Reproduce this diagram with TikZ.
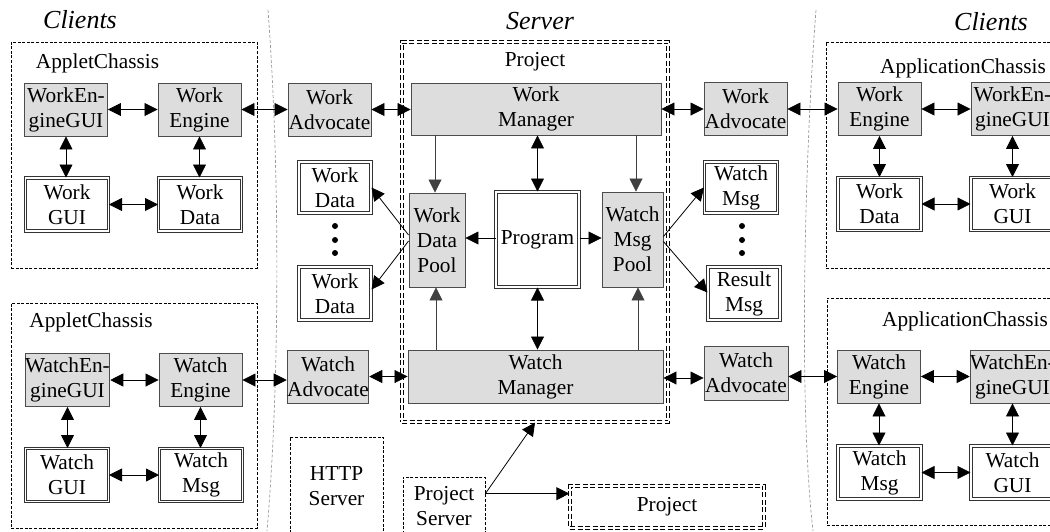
\documentclass[tikz,border=0pt]{standalone}
\usepackage{fontspec}
\setmainfont{Liberation Serif}
\usetikzlibrary{arrows.meta,calc}
\definecolor{boxgray}{RGB}{221,221,221}
\begin{document}
\begin{tikzpicture}[x=1pt,y=-1pt,
  every node/.style={font=\fontsize{21.3}{25}\selectfont, inner sep=0pt, align=center},
  gbox/.style={draw=black!70, fill=boxgray, line width=0.9pt, minimum width=83pt, minimum height=53pt},
  dbox/.style={draw=black!80, double=white, double distance=1.3pt, line width=1pt, minimum width=83pt, minimum height=53pt},
  chassis/.style={draw, dash pattern=on 3pt off 1.6pt, line width=0.7pt},
  pbox/.style={draw, line width=1.3pt, double=white, double distance=1.1pt, dash pattern=on 5pt off 2.5pt},
  arr/.style={{Triangle[length=13pt,width=13pt]}-{Triangle[length=13pt,width=13pt]}, line width=0.8pt},
  sarr/.style={-{Triangle[length=13pt,width=13pt]}, line width=0.8pt},
  parr/.style={-{Triangle[length=13pt,width=13pt]}, line width=0.8pt, draw=black!75, fill=black},
  titletext/.style={font=\fontsize{26}{30}\selectfont\itshape, anchor=base},
  lbl/.style={anchor=base},
  divider/.style={draw=black!40, dash pattern=on 3pt off 2pt, line width=0.7pt}]
\useasboundingbox (0,0) rectangle (1050,531);
\clip (0,0) rectangle (1050,531);

% dividers
\draw[divider] (268,10) .. controls (280,170) and (280,380) .. (267,531);
\draw[divider] (816,10) .. controls (805,150) and (798,400) .. (813,531);

% titles
\node[titletext] (tcl) at (80,28) {Clients};
\node[titletext] (tsv) at (540,29) {Server};
\node[titletext] (tcr) at (991,30) {Clients};

% chassis containers
\node[chassis, minimum width=246pt, minimum height=226pt] (chL1) at (134,155) {};
\node[chassis, minimum width=246pt, minimum height=225pt] (chL2) at (134,415.5) {};
\node[chassis, minimum width=236pt, minimum height=226pt] (chR1) at (944,155) {};
\node[chassis, minimum width=235pt, minimum height=227pt] (chR2) at (944.5,411.5) {};
\node[lbl] (lchL1) at (97.5,68) {AppletChassis};
\node[lbl] (lchL2) at (91,327) {AppletChassis};
\node[lbl] (lchR1) at (963,73) {ApplicationChassis};
\node[lbl] (lchR2) at (965,326) {ApplicationChassis};

% project container
\node[pbox, minimum width=266pt, minimum height=380pt] (projbox) at (535,232) {};
\node[lbl] (lproj) at (535,66) {Project};

% left top chassis
\node[gbox] (wegL) at (66,109.5) {WorkEn-\\gineGUI};
\node[gbox] (weL) at (199.5,109.5) {Work\\Engine};
\node[dbox] (wguiL) at (67,204.5) {Work\\GUI};
\node[dbox] (wdL) at (200,204.5) {Work\\Data};

% left bottom chassis
\node[gbox] (wchegL) at (67.5,380) {WatchEn-\\gineGUI};
\node[gbox] (wchEL) at (200.5,380) {Watch\\Engine};
\node[dbox] (wchguiL) at (67,475) {Watch\\GUI};
\node[dbox] (wchmsgL) at (201,475) {Watch\\Msg};

% advocates
\node[gbox] (waL) at (329.5,109.5) {Work\\Advocate};
\node[gbox, minimum width=80pt] (wchaL) at (328,376.5) {Watch\\Advocate};
\node[gbox] (waR) at (745.5,109) {Work\\Advocate};
\node[gbox, minimum width=84pt, minimum height=54pt] (wchaR) at (746,373) {Watch\\Advocate};

% server left data
\node[dbox, minimum width=72pt, minimum height=51pt] (wdata1) at (335,187.5) {Work\\Data};
\node[dbox, minimum width=72pt, minimum height=53pt] (wdata2) at (335,293.5) {Work\\Data};
\fill (335,226) circle (3pt) (335,240) circle (3pt) (335,253) circle (3pt);

% server right messages
\node[dbox, minimum width=73pt, minimum height=51pt] (wmsg) at (741,187.5) {Watch\\Msg};
\node[dbox, minimum width=72pt, minimum height=53pt] (rmsg) at (744,293.5) {Result\\Msg};
\fill (742,226) circle (3pt) (742,240) circle (3pt) (742,253) circle (3pt);

% project internals
\node[gbox, minimum width=250pt, minimum height=52pt] (wm) at (536,109) {Work\\Manager};
\node[gbox, minimum width=255pt, minimum height=53pt] (wchm) at (535.5,376.5) {Watch\\Manager};
\node[gbox, minimum width=56pt, minimum height=94pt] (wdp) at (437,240) {Work\\Data\\Pool};
\node[dbox, minimum width=83pt, minimum height=95pt] (prog) at (537.5,239.5) {Program};
\node[gbox, minimum width=61pt, minimum height=95pt] (wmp) at (632.5,239.5) {Watch\\Msg\\Pool};

% servers
\node[chassis, minimum width=93pt, minimum height=98pt] (http) at (336.5,486) {HTTP\\Server};
\node[chassis, minimum width=82pt, minimum height=58pt] (pserver) at (444,506) {Project\\Server};
\node[pbox, minimum width=194pt, minimum height=42pt] (projB) at (667,507) {Project};

% right top chassis
\node[gbox] (weR) at (879.5,109) {Work\\Engine};
\node[gbox] (wegR) at (1012.5,109) {WorkEn-\\gineGUI};
\node[dbox] (wdR) at (879.5,204) {Work\\Data};
\node[dbox] (wguiR) at (1012.5,204) {Work\\GUI};

% right bottom chassis
\node[gbox] (wchER) at (879,376.5) {Watch\\Engine};
\node[gbox] (wchegR) at (1012.5,376.5) {WatchEn-\\gineGUI};
\node[dbox] (wchmR) at (879.5,472.5) {Watch\\Msg};
\node[dbox] (wchguiR) at (1012.5,472.5) {Watch\\GUI};

% ---- connectors ----
% left top
\draw[arr] (wegL.east) -- (wegL.east -| weL.west);
\draw[arr] (wegL.south) -- (wegL.south |- wguiL.north);
\draw[arr] (weL.south) -- (weL.south |- wdL.north);
\draw[arr] (wguiL.east) -- (wguiL.east -| wdL.west);
\draw[arr] (weL.east) -- (weL.east -| waL.west);
\draw[arr] (waL.east) -- (waL.east -| wm.west);
% left bottom
\draw[arr] (wchegL.east) -- (wchegL.east -| wchEL.west);
\draw[arr] (wchegL.south) -- (wchegL.south |- wchguiL.north);
\draw[arr] (wchEL.south) -- (wchEL.south |- wchmsgL.north);
\draw[arr] (wchguiL.east) -- (wchguiL.east -| wchmsgL.west);
\draw[arr] (wchEL.east) -- (wchEL.east -| wchaL.west);
\draw[arr] (wchaL.east) -- (wchaL.east -| wchm.west);
% project internals
\draw[parr] ([xshift=-2pt]wdp.north |- wm.south) -- ([xshift=-2pt]wdp.north);
\draw[arr] (prog.north |- wm.south) -- (prog.north);
\draw[parr] ([xshift=3.5pt]wmp.north |- wm.south) -- ([xshift=3.5pt]wmp.north);
\draw[sarr] ([yshift=1.5pt]prog.west) -- ([yshift=1.5pt]prog.west -| wdp.east);
\draw[sarr] ([yshift=1.5pt]prog.east) -- ([yshift=1.5pt]prog.east -| wmp.west);
\draw[parr] ([xshift=-1pt]wdp.south |- wchm.north) -- ([xshift=-1pt]wdp.south);
\draw[arr] (prog.south) -- (prog.south |- wchm.north);
\draw[parr] ([xshift=5.5pt]wmp.south |- wchm.north) -- ([xshift=5.5pt]wmp.south);
\draw[sarr] ([yshift=5pt]wdp.west) -- (wdata1.east);
\draw[sarr] ([yshift=-1pt]wdp.west) -- ([yshift=4pt]wdata2.east);
\draw[sarr] ([yshift=3pt]wmp.east) -- (wmsg.west);
\draw[sarr] ([yshift=-2pt]wmp.east) -- ([yshift=1pt]rmsg.west);
% right top
\draw[arr] (wm.east) -- (wm.east -| waR.west);
\draw[arr] (waR.east) -- (waR.east -| weR.west);
\draw[arr] (weR.east) -- (weR.east -| wegR.west);
\draw[arr] (weR.south) -- (weR.south |- wdR.north);
\draw[arr] (wegR.south) -- (wegR.south |- wguiR.north);
\draw[arr] (wdR.east) -- (wdR.east -| wguiR.west);
% right bottom
\draw[arr] ([yshift=-1.5pt]wchm.east) -- ([yshift=-1.5pt]wchm.east -| wchaR.west);
\draw[arr] (wchER.west -| wchaR.east) -- (wchER.west);
\draw[arr] (wchER.east) -- (wchER.east -| wchegR.west);
\draw[arr] (wchER.south) -- (wchER.south |- wchmR.north);
\draw[arr] (wchegR.south) -- (wchegR.south |- wchguiR.north);
\draw[arr] (wchmR.east) -- (wchmR.east -| wchguiR.west);
% project server
\coordinate (ps) at ([yshift=-17pt]pserver.north east);
\draw[sarr] (ps) -- (projbox.south);
\draw[sarr] (ps) -- (ps -| projB.west);
\end{tikzpicture}
\end{document}
